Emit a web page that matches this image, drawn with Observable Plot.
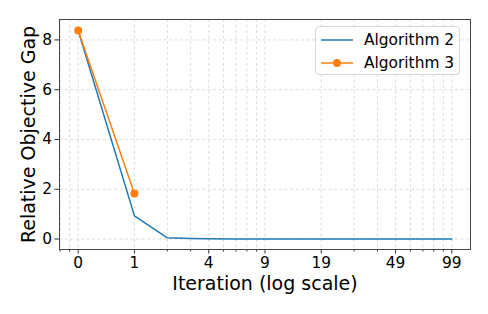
<!DOCTYPE html>
<html><head><meta charset="utf-8">
<script src="https://cdn.jsdelivr.net/npm/d3@7"></script>
<script src="https://cdn.jsdelivr.net/npm/@observablehq/plot@0.6"></script>
<style>
body{margin:0;background:#fff;}
#wrap{position:relative;width:488px;height:314px;font-family:"DejaVu Sans",sans-serif;}
#wrap svg{display:block;}
#legend{position:absolute;left:315px;top:26px;width:145px;height:49px;box-sizing:border-box;border:1px solid #d6d6d6;border-radius:4px;background:rgba(255,255,255,0.85);font-size:15.4px;color:#000;}
#legend .row{position:absolute;left:5px;height:20px;display:flex;align-items:center;}
#legend .row span{margin-left:11px;}
</style></head><body><div id="wrap"></div>
<script>
// Data
const alg2Iter = [0, 1, 2, 3, 4, 6, 9, 19, 49, 99];
const alg2Gap  = [8.38, 0.93, 0.05, 0.02, 0.01, 0.005, 0.003, 0.002, 0.001, 0.001];
const alg3Iter = [0, 1];
const alg3Gap  = [8.38, 1.83];
const xTickLabels = [0, 1, 4, 9, 19, 49, 99];
const yTicks = [0, 2, 4, 6, 8];
const seriesNames = ["Algorithm 2", "Algorithm 3"];
const seriesColors = ["#1f77b4", "#ff7f0e"];
const xLabel = "Iteration (log scale)";
const yLabel = "Relative Objective Gap";

const alg2 = alg2Iter.map((it, i) => ({it, gap: alg2Gap[i]}));
const alg3 = alg3Iter.map((it, i) => ({it, gap: alg3Gap[i]}));

const xDomain = [Math.pow(10, -0.1), Math.pow(10, 2.1)];
const majorX = xTickLabels.map(d => d + 1);
const minorX = [];
for (const dec of [0.1, 1, 10, 100]) for (let k = 1; k <= 9; k++) {
  const v = +(dec * k).toPrecision(6);
  if (v >= xDomain[0] && v <= xDomain[1] && !majorX.includes(v)) minorX.push(v);
}
const gridAll = [...minorX, ...majorX];

const chart = Plot.plot({
  width: 488, height: 314,
  marginLeft: 59, marginRight: 18, marginTop: 19, marginBottom: 65,
  style: {fontFamily: "DejaVu Sans, sans-serif", fontSize: "15.4px", color: "#000", background: "#fff"},
  x: {type: "log", domain: xDomain},
  y: {domain: [-0.42, 8.82]},
  marks: [
    Plot.gridX(gridAll, {stroke: "#d4d4d4", strokeOpacity: 1, strokeDasharray: "3,2.5", strokeWidth: 0.8}),
    Plot.gridY(yTicks, {stroke: "#d4d4d4", strokeOpacity: 1, strokeDasharray: "3,2.5", strokeWidth: 0.8}),
    Plot.line(alg2, {x: d => d.it + 1, y: "gap", stroke: seriesColors[0], strokeWidth: 1.5}),
    Plot.line(alg3, {x: d => d.it + 1, y: "gap", stroke: seriesColors[1], strokeWidth: 1.5}),
    Plot.dot(alg3, {x: d => d.it + 1, y: "gap", fill: seriesColors[1], stroke: "none", r: 4}),
    Plot.axisX(minorX, {tickSize: 2.5, fill: "none", label: null, stroke: "#333"}),
    Plot.axisX(majorX, {tickSize: 4.5, fill: "none", label: null, stroke: "#333"}),
    Plot.text(xTickLabels, {x: d => d + 1, text: d => String(d), frameAnchor: "bottom", lineAnchor: "top", dy: 7.5, fontSize: 15.4}),
    Plot.axisY(yTicks, {tickSize: 4.5, tickPadding: 3, label: null, stroke: "#333"}),
    Plot.text([xLabel], {text: d => d, frameAnchor: "bottom", textAnchor: "middle", lineAnchor: "top", dy: 27, fontSize: 19}),
    Plot.text([yLabel], {text: d => d, frameAnchor: "left", textAnchor: "middle", rotate: -90, lineAnchor: "middle", dx: -31, fontSize: 19}),
    Plot.frame({stroke: "#444", strokeWidth: 1})
  ]
});
const wrap = document.getElementById("wrap");
wrap.appendChild(chart);

const legend = document.createElement("div");
legend.id = "legend";
seriesNames.forEach((name, i) => {
  const row = document.createElement("div");
  row.className = "row";
  row.style.top = (3 + i * 23) + "px";
  const marker = i === 1 ? `<circle cx="16" cy="6" r="4" fill="${seriesColors[i]}"/>` : "";
  row.innerHTML = `<svg width="32" height="12"><line x1="0" x2="32" y1="6" y2="6" stroke="${seriesColors[i]}" stroke-width="1.5"/>${marker}</svg><span>${name}</span>`;
  legend.appendChild(row);
});
wrap.appendChild(legend);
</script>
</body></html>
